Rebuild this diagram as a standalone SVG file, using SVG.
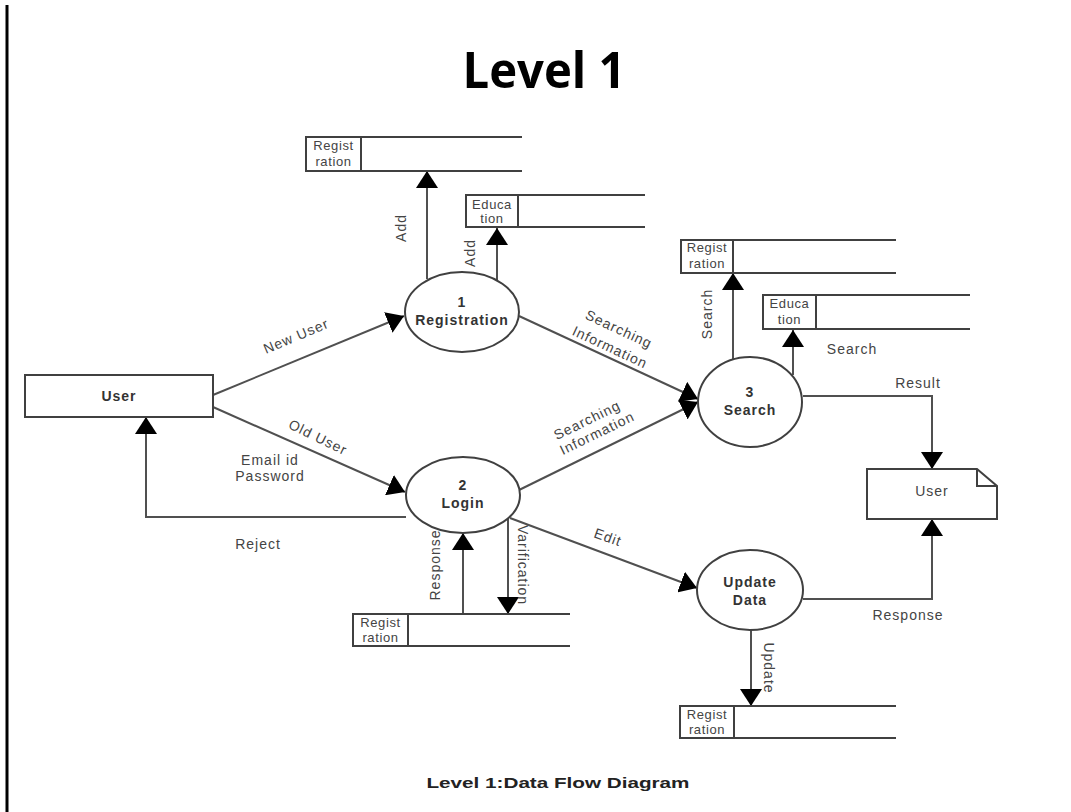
<svg xmlns="http://www.w3.org/2000/svg" width="1071" height="812" viewBox="0 0 1071 812">
  <style>
    .flow { fill: none; stroke: #505050; stroke-width: 2; }
    .flowA { fill: none; stroke: #505050; stroke-width: 2; marker-end: url(#ah); }
    .shape { fill: #fff; stroke: #404040; stroke-width: 2; }
    .store { fill: none; stroke: #404040; stroke-width: 2; }
    .lbl { font-family: "Liberation Sans", Arial, sans-serif; font-size: 14px; letter-spacing: 1px; fill: #444; text-anchor: middle; dominant-baseline: central; }
    .node { font-family: "Liberation Sans", Arial, sans-serif; font-size: 14px; font-weight: bold; letter-spacing: 1px; fill: #333; text-anchor: middle; dominant-baseline: central; }
    .st { font-family: "Liberation Sans", Arial, sans-serif; font-size: 13px; letter-spacing: 0.6px; fill: #444; text-anchor: middle; }
  </style>
  <defs>
    <marker id="ah" markerUnits="userSpaceOnUse" markerWidth="18" markerHeight="22" refX="17" refY="11" orient="auto">
      <path d="M0,0 L17,11 L0,22 z" fill="#000"/>
    </marker>
  </defs>

  <rect width="1071" height="812" fill="#fff"/>
  <!-- page edge rule -->
  <line x1="7" y1="5" x2="7" y2="812" stroke="#000" stroke-width="3"/>

  <text x="544" y="88" font-family="'Open Sans', 'Liberation Sans', sans-serif" font-size="50" font-weight="bold" text-anchor="middle" textLength="163" lengthAdjust="spacingAndGlyphs" fill="#000">Level 1</text>

  <!-- connectors -->
  <g id="connectors">
    <path class="flowA" d="M213,395 L404,316"/>
    <path class="flowA" d="M213,407 L405,492"/>
    <path class="flowA" d="M406,517 L146,517 L146,417"/>
    <path class="flowA" d="M427,279 L427,171"/>
    <path class="flowA" d="M497,282 L497,228"/>
    <path class="flowA" d="M519,316 L698,399"/>
    <path class="flowA" d="M517,491 L698,402"/>
    <path class="flowA" d="M733,360 L733,273"/>
    <path class="flowA" d="M793,375 L793,330"/>
    <path class="flowA" d="M803,396 L932,396 L932,469"/>
    <path class="flowA" d="M510,518 L697,588"/>
    <path class="flowA" d="M463,614 L463,533"/>
    <path class="flowA" d="M508,518 L508,614"/>
    <path class="flowA" d="M751,630 L751,706"/>
    <path class="flowA" d="M803,599 L932,599 L932,519"/>

    <text class="lbl" transform="translate(401,228) rotate(-90)">Add</text>
    <text class="lbl" transform="translate(470,253) rotate(-90)">Add</text>
    <text class="lbl" transform="translate(296,336) rotate(-22.8)">New User</text>
    <text class="lbl" transform="translate(318,437) rotate(26)">Old User</text>
    <text class="lbl" x="270" y="460">Email id</text>
    <text class="lbl" x="270" y="476">Password</text>
    <text class="lbl" x="258" y="544">Reject</text>
    <text class="lbl" transform="translate(619,329) rotate(25)">Searching</text>
    <text class="lbl" transform="translate(610,347) rotate(25)">Information</text>
    <text class="lbl" transform="translate(587,420) rotate(-26)">Searching</text>
    <text class="lbl" transform="translate(597,433) rotate(-26)">Information</text>
    <text class="lbl" transform="translate(707,314) rotate(-90)">Search</text>
    <text class="lbl" x="852" y="349">Search</text>
    <text class="lbl" x="918" y="383">Result</text>
    <text class="lbl" transform="translate(608,537) rotate(20)">Edit</text>
    <text class="lbl" transform="translate(435,565) rotate(-90)">Response</text>
    <text class="lbl" transform="translate(523,565) rotate(90)">Varification</text>
    <text class="lbl" transform="translate(769,668) rotate(90)">Update</text>
    <text class="lbl" x="908" y="615">Response</text>
  </g>

  <!-- external entities -->
  <g id="user-source">
    <rect class="shape" x="25" y="375" width="188" height="42"/>
    <text class="node" x="119" y="396">User</text>
  </g>
  <g id="user-sink">
    <path class="shape" d="M867,469 L977,469 L997,486 L997,519 L867,519 Z"/>
    <path class="store" d="M977,469 L977,486 L997,486"/>
    <text class="lbl" x="932" y="491">User</text>
  </g>

  <!-- processes -->
  <g id="p1-registration">
    <ellipse class="shape" cx="462" cy="312" rx="57" ry="40"/>
    <text class="node" x="462" y="302">1</text>
    <text class="node" x="462" y="320">Registration</text>
  </g>
  <g id="p2-login">
    <ellipse class="shape" cx="463" cy="495" rx="57" ry="38"/>
    <text class="node" x="463" y="485">2</text>
    <text class="node" x="463" y="503">Login</text>
  </g>
  <g id="p3-search">
    <ellipse class="shape" cx="750" cy="402" rx="52" ry="45"/>
    <text class="node" x="750" y="392">3</text>
    <text class="node" x="750" y="410">Search</text>
  </g>
  <g id="p-update">
    <ellipse class="shape" cx="750" cy="590" rx="53" ry="40"/>
    <text class="node" x="750" y="582">Update</text>
    <text class="node" x="750" y="600">Data</text>
  </g>

  <!-- data stores -->
  <g id="ds-registration-1">
    <path class="store" d="M522,137 L306,137 L306,171 L522,171 M361,137 L361,171"/>
    <text class="st" x="333.5" y="150">Regist</text>
    <text class="st" x="333.5" y="166">ration</text>
  </g>
  <g id="ds-education-1">
    <path class="store" d="M645,195 L466,195 L466,227 L645,227 M518,195 L518,227"/>
    <text class="st" x="492" y="209">Educa</text>
    <text class="st" x="492" y="223">tion</text>
  </g>
  <g id="ds-registration-2">
    <path class="store" d="M896,240 L681,240 L681,273 L896,273 M733,240 L733,273"/>
    <text class="st" x="707" y="252">Regist</text>
    <text class="st" x="707" y="268">ration</text>
  </g>
  <g id="ds-education-2">
    <path class="store" d="M970,295 L763,295 L763,329 L970,329 M816,295 L816,329"/>
    <text class="st" x="789.5" y="308">Educa</text>
    <text class="st" x="789.5" y="324">tion</text>
  </g>
  <g id="ds-registration-3">
    <path class="store" d="M570,614 L353,614 L353,646 L570,646 M408,614 L408,646"/>
    <text class="st" x="380.5" y="627">Regist</text>
    <text class="st" x="380.5" y="642">ration</text>
  </g>
  <g id="ds-registration-4">
    <path class="store" d="M896,706 L680,706 L680,738 L896,738 M734,706 L734,738"/>
    <text class="st" x="707" y="719">Regist</text>
    <text class="st" x="707" y="734">ration</text>
  </g>

  <text x="558" y="788" font-family="'Liberation Sans', Arial, sans-serif" font-size="15" font-weight="bold" text-anchor="middle" fill="#222" textLength="263" lengthAdjust="spacingAndGlyphs">Level 1:Data Flow Diagram</text>
</svg>
